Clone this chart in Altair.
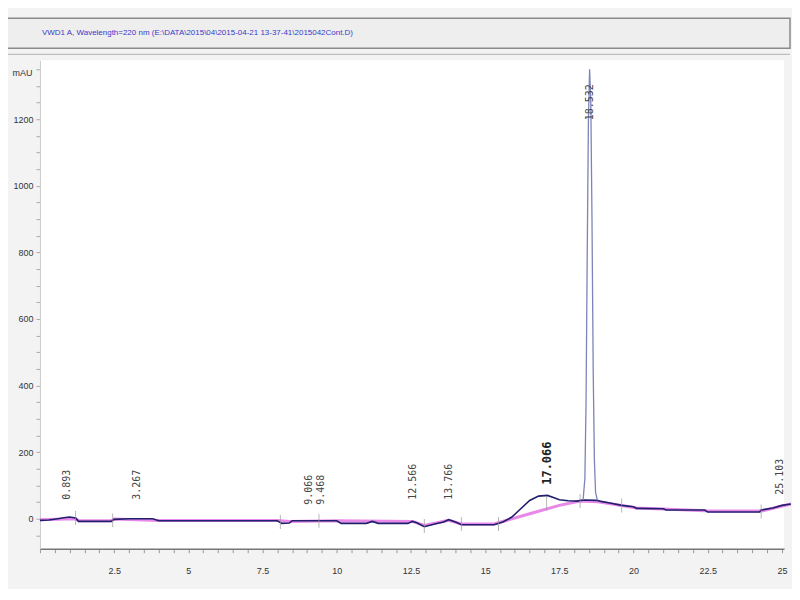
import altair as alt
import pandas as pd

# ---- data ----
sig_t = [0.0, 0.3, 0.6, 0.8, 1.0, 1.2, 1.3, 2.4, 2.5, 3.0, 3.8, 4.0, 8.0, 8.15, 8.4, 8.5,
         10.0, 10.15, 11.0, 11.2, 11.4, 12.4, 12.55, 12.7, 12.95, 13.3, 13.6, 13.77, 14.0,
         14.2, 15.3, 15.6, 15.9, 16.2, 16.5, 16.8, 17.1, 17.3, 17.5, 17.8, 18.1, 18.3,
         18.36, 18.40, 18.44, 18.48, 18.52, 18.56, 18.60, 18.64, 18.68, 18.72, 18.78,
         18.9, 19.2, 19.6, 20.0, 20.1, 21.0, 21.1, 22.4, 22.5, 24.25, 24.3, 24.7, 25.0, 25.3]
sig_v = [-5, -4, 0, 3, 5, 2, -8, -8, -2, 0, 0, -6, -6, -14, -13, -6,
         -6, -14, -14, -8, -14, -14, -8, -12, -24, -16, -10, -3, -10,
         -18, -18, -10, 5, 30, 55, 68, 70, 64, 57, 54, 53, 56,
         120, 350, 800, 1200, 1350, 1250, 900, 450, 180, 80, 55,
         52, 47, 40, 36, 31, 30, 26, 26, 20, 20, 26, 32, 40, 44]

base_t = [0.0, 1.2, 1.3, 2.4, 2.5, 4.0, 8.0, 8.4, 10.0, 12.55, 12.95, 13.77, 14.2, 15.3,
          16.5, 17.5, 18.2, 18.8, 19.6, 20.1, 21.0, 22.4, 24.3, 25.3]
base_v = [-3, 0, -6, -6, -1, -5, -5, -8, -6, -8, -20, -5, -16, -16,
          15, 40, 53, 51, 40, 32, 29, 24, 23, 44]

mark_t = [1.2, 2.45, 8.1, 9.4, 12.95, 14.2, 15.45, 17.07, 18.2, 19.6, 24.3]
mark_v = [2, -5, -10, -6, -22, -16, -16, 46, 53, 40, 22]

lab_t = [0.9, 3.27, 9.07, 9.47, 12.57, 13.77, 18.53, 24.95]
lab_v = [57, 57, 42, 42, 57, 57, 1197, 72]
lab_s = ["0.893", "3.267", "9.066", "9.468", "12.566", "13.766", "18.532", "25.103"]

big_t = [17.07]
big_v = [102]
big_s = ["17.066"]

x_tick_values = [0.5 * i for i in range(0, 51)]
y_tick_values = [50 * i for i in range(-1, 28)]

title_text = "VWD1 A, Wavelength=220 nm (E:\\DATA\\2015\\04\\2015-04-21 13-37-41\\2015042Cont.D)"

sig = pd.DataFrame({"t": sig_t, "v": sig_v})
base = pd.DataFrame({"t": base_t, "v": base_v})
marks = pd.DataFrame({"t": mark_t, "v": mark_v})
labs = pd.DataFrame({"t": lab_t, "v": lab_v, "s": lab_s})
bigl = pd.DataFrame({"t": big_t, "v": big_v, "s": big_s})

W, H = 745, 489

xs = alt.Scale(domain=[0, 25.07], nice=False, zero=False)
ys = alt.Scale(domain=[-90, 1377], nice=False, zero=False)

x_axis = alt.Axis(values=x_tick_values, tickSize=4, tickColor="#999",
                  domainColor="#777", domainWidth=1.5, grid=False, labelOverlap=False,
                  labelExpr="(datum.value > 0 && datum.value % 2.5 == 0) ? format(datum.value, '~g') : ''",
                  labelFontSize=9, labelColor="#333", labelPadding=14, title=None,
                  labelFont="Liberation Sans")
y_axis = alt.Axis(values=y_tick_values, tickSize=4, tickColor="#aaa", domainColor="#ccc",
                  grid=False, labelOverlap=False,
                  labelExpr="(datum.value >= 0 && datum.value % 200 == 0) ? format(datum.value, 'd') : ''",
                  labelFontSize=9, labelColor="#333", labelPadding=3,
                  labelFont="Liberation Sans",
                  title="mAU", titleAngle=0, titleX=-8, titleY=12, titleAlign="right",
                  titleBaseline="middle", titleFontSize=9, titleFontWeight="normal",
                  titleColor="#333", titleFont="Liberation Sans")

X = alt.X("t:Q", scale=xs, axis=x_axis)
Y = alt.Y("v:Q", scale=ys, axis=y_axis)

# ---- decorative frame (window look) ----
frame_df = pd.DataFrame({"k": [0]})
title_box = alt.Chart(frame_df).mark_rect(fill="#eeeeee", stroke="#8a8a8a", strokeWidth=1.5).encode(
    x=alt.value(-36), x2=alt.value(W + 6), y=alt.value(-42), y2=alt.value(-12))
outer_left = alt.Chart(frame_df).mark_rule(color="#9a9a9a", strokeWidth=1.5).encode(
    x=alt.value(-37), y=alt.value(-6), y2=alt.value(531))
outer_bottom = alt.Chart(frame_df).mark_rule(color="#8a8a8a", strokeWidth=2).encode(
    x=alt.value(-37), x2=alt.value(W + 6), y=alt.value(531))
outer_top = alt.Chart(frame_df).mark_rule(color="#b0b0b0", strokeWidth=1).encode(
    x=alt.value(-37), x2=alt.value(W + 6), y=alt.value(-6))
title_txt = alt.Chart(frame_df).mark_text(align="left", baseline="middle", fontSize=8,
                                          color="#3a3ac8", font="Liberation Sans").encode(
    x=alt.value(2), y=alt.value(-27), text=alt.value(title_text))

# ---- chromatogram ----
baseline = alt.Chart(base).mark_line(color="#e060e0", strokeWidth=3, opacity=0.75).encode(x=X, y=Y)

trace_main = alt.Chart(sig).transform_filter(
    "datum.t < 18.33 || datum.t > 18.75").mark_line(color="#1f1f6e", strokeWidth=1.6).encode(x=X, y=Y)

trace_spike = alt.Chart(sig).transform_filter(
    "datum.t >= 18.3 && datum.t <= 18.78").mark_line(color="#7d84b8", strokeWidth=1.3).encode(x=X, y=Y)

ticks = alt.Chart(marks).mark_tick(orient="vertical", color="#999999", size=14, thickness=1).encode(x=X, y=Y)

labels = alt.Chart(labs).mark_text(angle=270, align="left", baseline="middle", fontSize=10,
                                   font="DejaVu Sans Mono", color="#444444").encode(
    x=X, y=Y, text="s:N")

big_label = alt.Chart(bigl).mark_text(angle=270, align="left", baseline="middle", fontSize=12,
                                      fontWeight="bold", font="DejaVu Sans Mono",
                                      color="#222222").encode(
    x=X, y=Y, text="s:N")

chart = alt.layer(
    title_box, outer_top, outer_left, outer_bottom, title_txt,
    baseline, trace_main, trace_spike, ticks, labels, big_label
).properties(
    width=W, height=H,
    autosize=alt.AutoSizeParams(type="none"),
    padding={"left": 32, "top": 52, "right": 8, "bottom": 40},
    background="#f3f3f3"
).configure_view(fill="white", strokeWidth=0)

chart.save("out.html", embed_options={"renderer": "svg", "actions": False})
